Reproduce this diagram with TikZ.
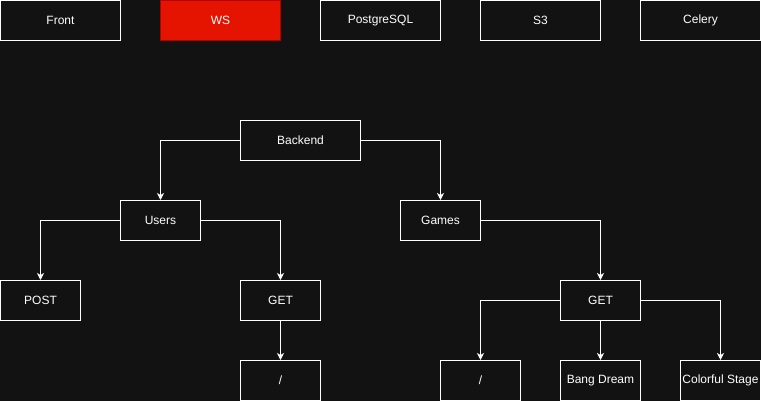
\documentclass[tikz,border=0pt]{standalone}
\usepackage{fontspec}
\setmainfont{Liberation Sans}
\usetikzlibrary{arrows.meta}
\definecolor{bg}{HTML}{121212}
\definecolor{wsred}{HTML}{E51400}
\definecolor{wsline}{HTML}{B20000}
\tikzset{
  box/.style={draw=white, line width=1pt, text=white, inner sep=0pt,
    minimum height=40pt, font=\fontsize{12}{14}\selectfont},
  wide/.style={box, minimum width=120pt},
  small/.style={box, minimum width=80pt},
}
\begin{document}
\begin{tikzpicture}[x=1pt, y=-1pt]
      \fill[bg] (0,0) rectangle (761,401);
      \useasboundingbox (0,0) rectangle (761,401);
      \draw
        (60.5,20.5) node[wide] (front){Front}
        (220.5,20.5) node[wide, fill=wsred, draw=wsline] (ws){WS}
        (380.5,20.5) node[wide] (postgres){PostgreSQL}
        (540.5,20.5) node[wide] (s3){S3}
        (700.5,20.5) node[wide] (celery){Celery}
        (300.5,140.5) node[wide] (backend){Backend}
        (160.5,220.5) node[small] (users){Users}
        (440.5,220.5) node[small] (games){Games}
        (40.5,300.5) node[small] (upost){POST}
        (280.5,300.5) node[small] (uget){GET}
        (280.5,380.5) node[small] (uroot){/}
        (600.5,300.5) node[small] (gget){GET}
        (480.5,380.5) node[small] (groot){/}
        (600.5,380.5) node[small] (bang){Bang Dream}
        (720.5,380.5) node[small] (colorful){Colorful Stage};
      \begin{scope}[draw=white, line width=1pt, -{Stealth[length=7pt, width=7pt, inset=2pt]}]
        \draw (backend.west) -| (users.north);
        \draw (backend.east) -| (games.north);
        \draw (users.west) -| (upost.north);
        \draw (users.east) -| (uget.north);
        \draw (uget) to (uroot);
        \draw (games.east) -| (gget.north);
        \draw (gget.west) -| (groot.north);
        \draw (gget) to (bang);
        \draw (gget.east) -| (colorful.north);
      \end{scope}
    \end{tikzpicture}
\end{document}
